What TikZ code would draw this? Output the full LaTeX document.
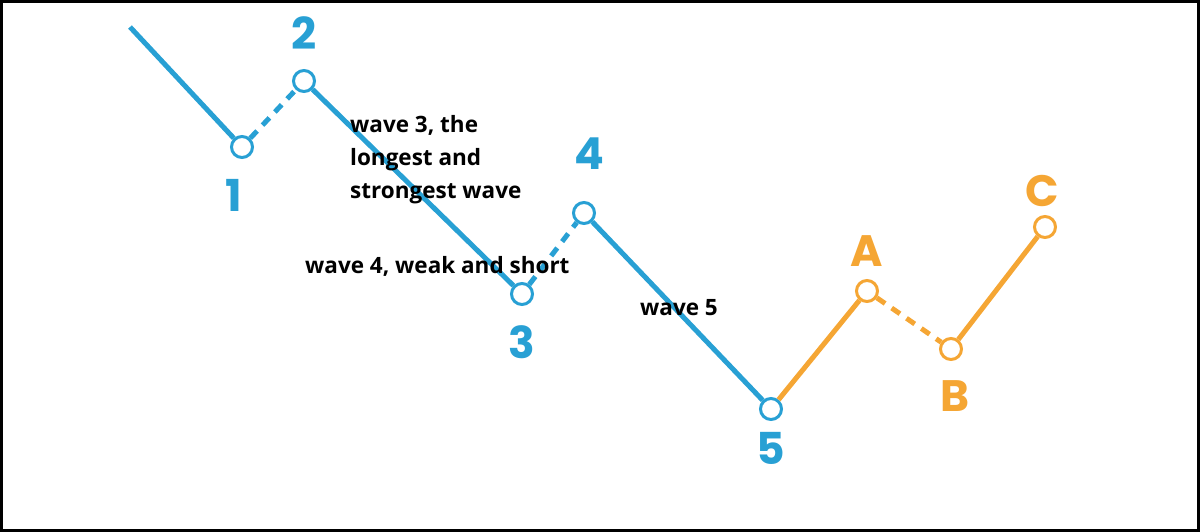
\documentclass[tikz,border=0pt]{standalone}
\usepackage{fontspec}
\setmainfont{Open Sans}
\newfontfamily\numfont{Poppins}
\usetikzlibrary{positioning}
\definecolor{waveblue}{RGB}{40,160,212}
\definecolor{waveorange}{RGB}{245,166,52}

\begin{document}
\begin{tikzpicture}[
  x=1pt, y=-1pt,
  node distance=20pt,
  turn/.style={circle, draw=#1, fill=white, line width=3pt, minimum size=21pt, inner sep=0pt},
  num/.style={text=#1, font=\numfont\bfseries\fontsize{44}{44}\selectfont, inner sep=0pt},
  leg/.style={draw=#1, line width=5pt},
  legdash/.style={leg=#1, dash pattern=on 10pt off 8pt},
  note/.style={font=\bfseries\fontsize{22.5}{33}\selectfont, align=left, inner sep=0pt, anchor=north west}
]
\useasboundingbox (0,0) rectangle (1200,532);
\draw[line width=3pt] (1.5,1.5) rectangle (1198.5,530.5);

% turning points
\coordinate (start) at (130,27);
\node[turn=waveblue] (p1) at (242,147) {};
\node[turn=waveblue] (p2) at (304,81) {};
\node[turn=waveblue] (p3) at (522,294) {};
\node[turn=waveblue] (p4) at (584,213) {};
\node[turn=waveblue] (p5) at (771,409) {};
\node[turn=waveorange] (pA) at (867,291) {};
\node[turn=waveorange] (pB) at (951,349) {};
\node[turn=waveorange] (pC) at (1045,227) {};

% impulse
\draw[leg=waveblue] (start) -- (p1);
\draw[legdash=waveblue] (p1) -- (p2);
\draw[leg=waveblue] (p2) -- (p3);
\draw[legdash=waveblue] (p3) -- (p4);
\draw[leg=waveblue] (p4) -- (p5);
% correction
\draw[leg=waveorange] (p5) -- (pA);
\draw[legdash=waveorange] (pA) -- (pB);
\draw[leg=waveorange] (pB) -- (pC);

% labels
\node[num=waveblue, below=20pt of p1, xshift=-8pt] (l1) {1};
\node[num=waveblue, above=19pt of p2] (l2) {2};
\node[num=waveblue, below=19pt of p3] (l3) {3};
\node[num=waveblue, above=31pt of p4, xshift=5pt] (l4) {4};
\node[num=waveblue, below=11pt of p5] (l5) {5};
\node[num=waveorange, above=12pt of pA] (lA) {A};
\node[num=waveorange, below=19pt of pB, xshift=4pt] (lB) {B};
\node[num=waveorange, above=8pt of pC, xshift=-3pt] (lC) {C};

\node[note] (w3) at (350,115) {wave 3, the\\longest and\\strongest wave};
\node[note] (w4) at (305,256) {wave 4, weak and short};
\node[note] (w5) at (640,299) {wave 5};
\end{tikzpicture}
\end{document}
